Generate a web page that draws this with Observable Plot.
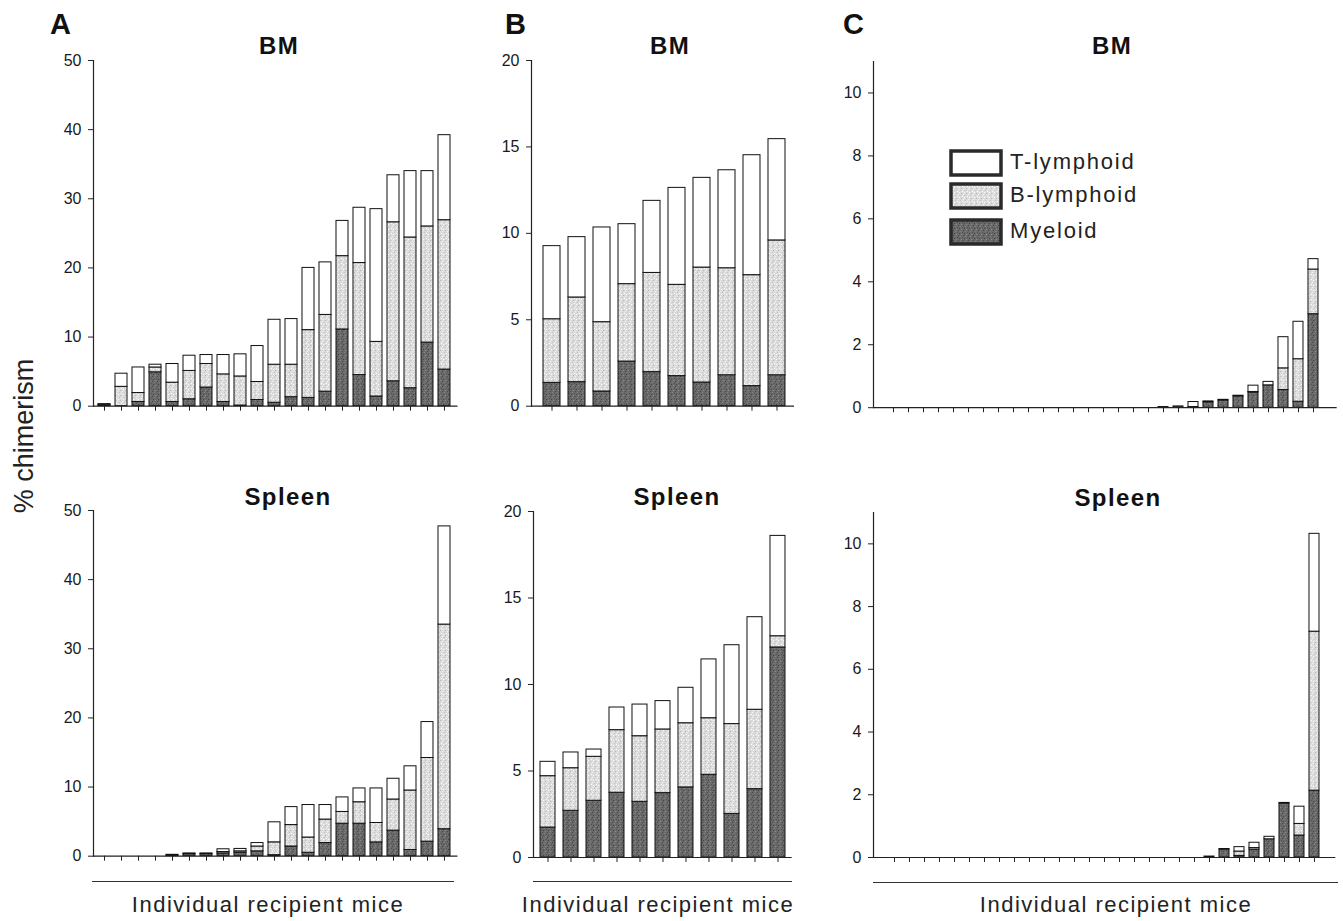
<!DOCTYPE html>
<html>
<head>
<meta charset="utf-8">
<script src="https://cdn.jsdelivr.net/npm/d3@7"></script>
<script src="https://cdn.jsdelivr.net/npm/@observablehq/plot@0.6"></script>
<style>
  html, body { margin: 0; padding: 0; background: #fff; }
  #root { position: relative; width: 1343px; height: 921px; overflow: hidden; font-family: "Liberation Sans", Arial, sans-serif; color: #111; }
  .abs { position: absolute; white-space: nowrap; line-height: 1; }
  .panelLetter { font-weight: bold; font-size: 29px; }
  .title { font-weight: bold; font-size: 24px; letter-spacing: 1.4px; transform: translateX(-50%); }
  .xlab { font-size: 22px; letter-spacing: 1.5px; transform: translateX(-50%); color: #222; }
  .ylab { font-size: 27px; transform: translate(-50%, -50%) rotate(-90deg); color: #222; }
  .hline { position: absolute; height: 0; border-top: 1px solid #333; }
  .legtext { font-size: 22px; letter-spacing: 1.8px; color: #222; }
</style>
</head>
<body>
<svg width="0" height="0" style="position:absolute">
  <defs>
    <pattern id="pM" width="5" height="5" patternUnits="userSpaceOnUse">
      <rect width="5" height="5" fill="#6a6a6a"/>
      <rect x="0" y="0" width="1" height="1" fill="#414141"/>
      <rect x="2" y="1" width="1" height="1" fill="#8c8c8c"/>
      <rect x="4" y="2" width="1" height="1" fill="#484848"/>
      <rect x="1" y="3" width="1" height="1" fill="#808080"/>
      <rect x="3" y="4" width="1" height="1" fill="#535353"/>
    </pattern>
    <pattern id="pB" width="5" height="5" patternUnits="userSpaceOnUse">
      <rect width="5" height="5" fill="#dbdbdb"/>
      <rect x="0" y="0" width="1" height="1" fill="#ffffff"/>
      <rect x="2" y="1" width="1" height="1" fill="#bababa"/>
      <rect x="4" y="2" width="1" height="1" fill="#f2f2f2"/>
      <rect x="1" y="3" width="1" height="1" fill="#c6c6c6"/>
      <rect x="3" y="4" width="1" height="1" fill="#ffffff"/>
    </pattern>
    <pattern id="pT" width="5" height="5" patternUnits="userSpaceOnUse">
      <rect width="5" height="5" fill="#ffffff"/>
    </pattern>
  </defs>
</svg>
<div id="root"></div>
<script>
// ---------------- DATA ----------------
const cellTypes = ["Myeloid", "B-lymphoid", "T-lymphoid"];

// Panel A – BM (21 recipient mice)
const aBM_myeloid = [0.1, 0.0, 0.6, 4.9, 0.6, 1.0, 2.7, 0.6, 0.1, 0.9, 0.5, 1.3, 1.2, 2.1, 11.1, 4.5, 1.4, 3.6, 2.6, 9.2, 5.3];
const aBM_bLymph  = [0.1, 2.8, 1.3, 0.7, 2.8, 4.1, 3.4, 4.0, 4.2, 2.6, 5.5, 4.7, 9.8, 11.1, 10.6, 16.2, 7.9, 23.0, 21.8, 16.8, 21.6];
const aBM_tLymph  = [0.1, 1.9, 3.7, 0.4, 2.7, 2.2, 1.3, 2.8, 3.2, 5.2, 6.5, 6.6, 9.0, 7.6, 5.1, 8.0, 19.2, 6.8, 9.6, 8.0, 12.3];

// Panel A – Spleen (21 recipient mice)
const aSp_myeloid = [0, 0, 0, 0, 0.1, 0.3, 0.3, 0.4, 0.5, 0.7, 0.15, 1.4, 0.5, 1.9, 4.7, 4.7, 2.0, 3.7, 0.9, 2.1, 3.9];
const aSp_bLymph  = [0, 0, 0, 0, 0.1, 0.1, 0.1, 0.2, 0.2, 0.7, 1.85, 3.1, 2.2, 3.4, 1.7, 3.1, 2.8, 4.5, 8.6, 12.1, 29.6];
const aSp_tLymph  = [0, 0, 0, 0, 0.0, 0.0, 0.0, 0.4, 0.35, 0.5, 2.9, 2.6, 4.7, 2.1, 2.1, 2.0, 5.0, 3.0, 3.5, 5.2, 14.2];

// Panel B – BM (10 recipient mice)
const bBM_myeloid = [1.35, 1.39, 0.85, 2.58, 1.97, 1.74, 1.37, 1.79, 1.16, 1.79];
const bBM_bLymph  = [3.68, 4.90, 4.01, 4.48, 5.74, 5.28, 6.65, 6.19, 6.42, 7.80];
const bBM_tLymph  = [4.23, 3.49, 5.48, 3.47, 4.17, 5.61, 5.19, 5.67, 6.94, 5.86];

// Panel B – Spleen (11 recipient mice)
const bSp_myeloid = [1.73, 2.70, 3.28, 3.74, 3.22, 3.72, 4.05, 4.78, 2.52, 3.95, 12.14];
const bSp_bLymph  = [2.97, 2.46, 2.54, 3.62, 3.79, 3.68, 3.71, 3.27, 5.19, 4.59, 0.65];
const bSp_tLymph  = [0.83, 0.91, 0.42, 1.31, 1.83, 1.64, 2.05, 3.40, 4.56, 5.35, 5.80];

// Panel C – BM (29 recipient mice)
const cBM_myeloid = [0,0,0,0,0,0,0,0,0,0,0,0,0,0,0,0,0,0, 0.02, 0.04, 0.02, 0.17, 0.23, 0.36, 0.48, 0.71, 0.56, 0.19, 2.97];
const cBM_bLymph  = [0,0,0,0,0,0,0,0,0,0,0,0,0,0,0,0,0,0, 0, 0, 0, 0, 0, 0, 0.02, 0, 0.69, 1.35, 1.42];
const cBM_tLymph  = [0,0,0,0,0,0,0,0,0,0,0,0,0,0,0,0,0,0, 0, 0, 0.16, 0.03, 0.02, 0.02, 0.20, 0.11, 0.99, 1.19, 0.33];

// Panel C – Spleen (29 recipient mice)
const cSp_myeloid = [0,0,0,0,0,0,0,0,0,0,0,0,0,0,0,0,0,0,0,0,0, 0.03, 0.25, 0.05, 0.25, 0.58, 1.72, 0.70, 2.13];
const cSp_bLymph  = [0,0,0,0,0,0,0,0,0,0,0,0,0,0,0,0,0,0,0,0,0, 0, 0, 0.14, 0.05, 0, 0, 0.37, 5.07];
const cSp_tLymph  = [0,0,0,0,0,0,0,0,0,0,0,0,0,0,0,0,0,0,0,0,0, 0, 0.02, 0.14, 0.17, 0.08, 0.02, 0.55, 3.12];

const ticksA = [0, 10, 20, 30, 40, 50];
const ticksB = [0, 5, 10, 15, 20];
const ticksC = [0, 2, 4, 6, 8, 10];

const letters = ["A", "B", "C"];
const organTitles = ["BM", "Spleen"];
const yLabel = "% chimerism";
const xLabel = "Individual recipient mice";

// ---------------- DRAW ----------------
const root = document.getElementById("root");
const fills = ["url(#pM)", "url(#pB)", "url(#pT)"];

function addDiv(cls, text, left, top, extra) {
  const d = document.createElement("div");
  d.className = "abs " + cls;
  d.textContent = text;
  d.style.left = left + "px";
  d.style.top = top + "px";
  if (extra) Object.assign(d.style, extra);
  root.appendChild(d);
  return d;
}

function panel(cfg) {
  const {m, b, t, yDomain, yTicks, axisX, xEnd, y0, yTop, c1, cN, padInner, gapLeft} = cfg;
  const n = m.length;
  const mice = d3.range(1, n + 1);
  const rows = [];
  mice.forEach((id, i) => {
    rows.push({mouse: id, type: "Myeloid", v: m[i]});
    rows.push({mouse: id, type: "B-lymphoid", v: b[i]});
    rows.push({mouse: id, type: "T-lymphoid", v: t[i]});
  });
  const step = (cN - c1) / (n - 1);
  const r0 = axisX + gapLeft;
  const padOuter = (c1 - r0) / step - (1 - padInner) / 2;
  const r1 = cN + (c1 - r0);
  const mL = 50, mT = 6, mB = 16, mR = 6;
  const frameRight = Math.max(xEnd, r1);
  const chart = Plot.plot({
    width: mL + (frameRight - axisX) + mR,
    height: mT + (y0 - yTop) + mB,
    marginLeft: mL, marginTop: mT, marginBottom: mB, marginRight: mR,
    style: {fontFamily: "'Liberation Sans', Arial, sans-serif", fontSize: "16px", color: "#1a1a1a", background: "transparent", overflow: "visible"},
    x: {type: "band", domain: mice, paddingInner: padInner, paddingOuter: padOuter,
        insetLeft: gapLeft, insetRight: frameRight - r1, axis: null, label: null},
    y: {domain: yDomain, axis: null, label: null},
    color: {domain: cellTypes, range: fills},
    marks: [
      Plot.barY(rows, {x: "mouse", y: "v", fill: "type", order: cellTypes, stroke: "#111", strokeWidth: 1}),
      Plot.axisY({ticks: yTicks, tickSize: 5, tickPadding: 7, label: null, stroke: "#222", fontSize: 16}),
      Plot.axisX({tickSize: 5, tickFormat: () => "", label: null, stroke: "#222"}),
      Plot.ruleY([0], {stroke: "#222", strokeWidth: 1.2}),
      Plot.frame({anchor: "left", stroke: "#222", strokeWidth: 1.2})
    ]
  });
  chart.style.position = "absolute";
  chart.style.left = (axisX - mL) + "px";
  chart.style.top = (yTop - mT) + "px";
  root.appendChild(chart);
}

// Panel A
panel({m: aBM_myeloid, b: aBM_bLymph, t: aBM_tLymph, yDomain: [0, 50], yTicks: ticksA,
  axisX: 92.5, xEnd: 457, y0: 405.7, yTop: 60, c1: 102.3, cN: 445.3, padInner: 0.3, gapLeft: 1});
panel({m: aSp_myeloid, b: aSp_bLymph, t: aSp_tLymph, yDomain: [0, 50], yTicks: ticksA,
  axisX: 92.5, xEnd: 457, y0: 855.7, yTop: 510, c1: 102.3, cN: 445.3, padInner: 0.3, gapLeft: 1});
// Panel B
panel({m: bBM_myeloid, b: bBM_bLymph, t: bBM_tLymph, yDomain: [0, 20], yTicks: ticksB,
  axisX: 531, xEnd: 793, y0: 405.7, yTop: 60, c1: 547.3, cN: 779.7, padInner: 0.33, gapLeft: 2});
panel({m: bSp_myeloid, b: bSp_bLymph, t: bSp_tLymph, yDomain: [0, 20], yTicks: ticksB,
  axisX: 533.3, xEnd: 792, y0: 856.7, yTop: 510.7, c1: 546, cN: 780, padInner: 0.33, gapLeft: 1.5});
// Panel C
panel({m: cBM_myeloid, b: cBM_bLymph, t: cBM_tLymph, yDomain: [0, 11], yTicks: ticksC,
  axisX: 873.3, xEnd: 1337, y0: 406.7, yTop: 60.5, c1: 881.3, cN: 1326, padInner: 0.31, gapLeft: 0.5});
panel({m: cSp_myeloid, b: cSp_bLymph, t: cSp_tLymph, yDomain: [0, 11], yTicks: ticksC,
  axisX: 872.7, xEnd: 1335, y0: 857, yTop: 512, c1: 881.3, cN: 1326, padInner: 0.31, gapLeft: 0.5});

// Panel letters
addDiv("panelLetter", letters[0], 50, 9.5);
addDiv("panelLetter", letters[1], 505, 9.5);
addDiv("panelLetter", letters[2], 843, 9.5);

// Organ titles
addDiv("title", organTitles[0], 279, 34);
addDiv("title", organTitles[0], 670, 34);
addDiv("title", organTitles[0], 1112, 34);
addDiv("title", organTitles[1], 288, 485);
addDiv("title", organTitles[1], 677, 485);
addDiv("title", organTitles[1], 1118, 486);

// Y label
addDiv("ylab", yLabel, 24, 436);

// Bottom lines and labels
function hline(x1, x2, y) {
  const d = document.createElement("div");
  d.className = "hline";
  d.style.left = x1 + "px"; d.style.width = (x2 - x1) + "px"; d.style.top = y + "px";
  root.appendChild(d);
}
hline(92, 454, 881);
hline(533, 792, 881);
hline(873, 1338, 882);
addDiv("xlab", xLabel, 268, 894);
addDiv("xlab", xLabel, 658, 894);
addDiv("xlab", xLabel, 1116, 894);

// Legend (panel C, BM)
const legendTop = [150, 183, 219];
const legendBase = [170, 203, 239];
const legendOrder = ["T-lymphoid", "B-lymphoid", "Myeloid"];
legendOrder.forEach((name, i) => {
  const ns = "http://www.w3.org/2000/svg";
  const s = document.createElementNS(ns, "svg");
  s.setAttribute("width", 54); s.setAttribute("height", 28);
  s.style.position = "absolute";
  s.style.left = "949px"; s.style.top = (legendTop[i] - 1) + "px";
  const r = document.createElementNS(ns, "rect");
  r.setAttribute("x", 2); r.setAttribute("y", 2); r.setAttribute("width", 50); r.setAttribute("height", 24);
  r.setAttribute("fill", fills[cellTypes.indexOf(name)]);
  r.setAttribute("stroke", "#2a2a2a"); r.setAttribute("stroke-width", 3.5);
  s.appendChild(r);
  root.appendChild(s);
  addDiv("legtext", name, 1010, legendBase[i] - 18.6);
});
</script>
</body>
</html>
